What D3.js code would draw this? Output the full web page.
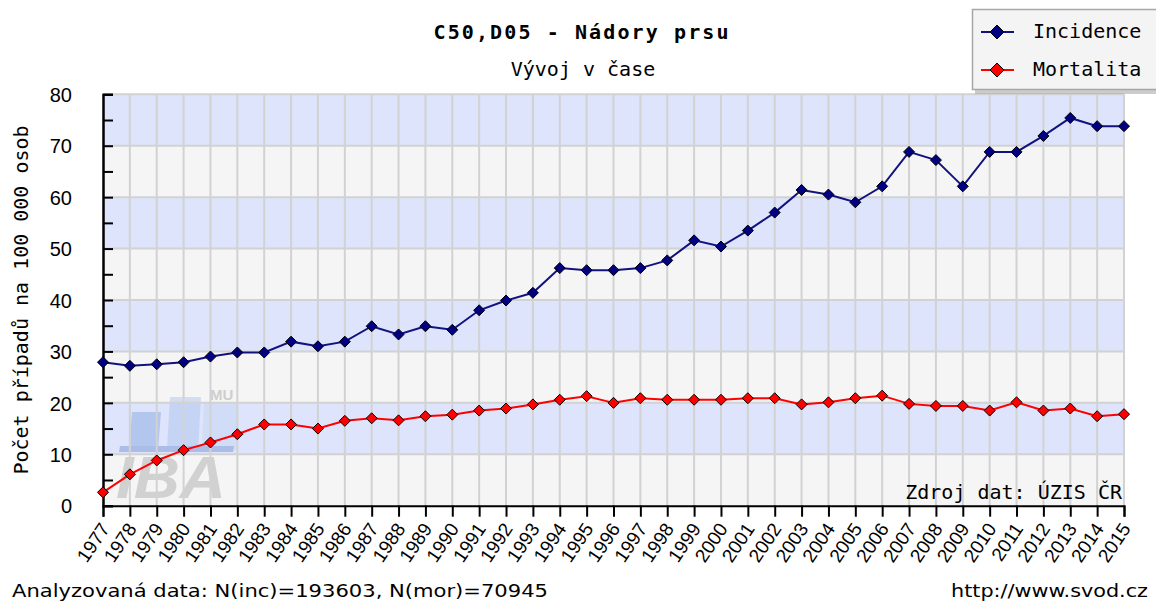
<!DOCTYPE html>
<html><head><meta charset="utf-8">
<script src="https://cdnjs.cloudflare.com/ajax/libs/d3/7.8.5/d3.min.js"></script>
<style>
html,body{margin:0;padding:0;background:#fff;}
svg{display:block;}
</style></head>
<body><svg id="c" width="1156" height="601"></svg>
<script>
const years = [1977,1978,1979,1980,1981,1982,1983,1984,1985,1986,1987,1988,1989,1990,1991,1992,1993,1994,1995,1996,1997,1998,1999,2000,2001,2002,2003,2004,2005,2006,2007,2008,2009,2010,2011,2012,2013,2014,2015];
const incidence = [27.9,27.2,27.5,27.9,29.0,29.8,29.8,31.9,31.0,31.9,34.9,33.3,34.9,34.2,38.0,39.9,41.4,46.2,45.8,45.8,46.2,47.7,51.6,50.4,53.5,57.0,61.4,60.5,59.0,62.1,68.8,67.2,62.1,68.8,68.8,71.9,75.4,73.8,73.8];
const mortality = [2.6,6.1,8.8,10.8,12.3,13.9,15.8,15.8,15.0,16.5,17.0,16.6,17.4,17.7,18.5,18.9,19.7,20.6,21.3,20.0,20.9,20.6,20.6,20.6,20.9,20.9,19.7,20.1,20.9,21.4,19.8,19.4,19.4,18.5,20.1,18.5,18.9,17.4,17.8];
const yTicks = [0,10,20,30,40,50,60,70,80];
const yMinorTicks = [5,15,25,35,45,55,65,75];
const seriesNames = ["Incidence","Mortalita"];
const titleText = "C50,D05 - Nádory prsu";
const subtitleText = "Vývoj v čase";
const yTitle = "Počet případů na 100 000 osob";
const sourceText = "Zdroj dat: ÚZIS ČR";
const footLeft = "Analyzovaná data: N(inc)=193603, N(mor)=70945";
const footRight = "http://www.svod.cz";

const svg = d3.select("#c");
const L = 103, R = 1124, T = 94.3, B = 505.7;
const x = d3.scaleLinear().domain([years[0], years[years.length-1]]).range([L, R]);
const y = d3.scaleLinear().domain([0, 80]).range([B, T]);
const mono = "'DejaVu Sans Mono', monospace";

// background bands
const bands = d3.range(yTicks.length-1).map(i => [yTicks[i], yTicks[i+1], i]);
svg.append("g").selectAll("rect").data(bands).join("rect")
  .attr("x", L).attr("width", R - L)
  .attr("y", d => y(d[1])).attr("height", d => y(d[0]) - y(d[1]))
  .attr("fill", d => d[2] % 2 === 0 ? "#f5f5f5" : "#dde4fb");

// watermark
const wm = svg.append("g").attr("opacity", 0.45);
const poly = (pts, fill) => wm.append("polygon").attr("points", pts.map(p => p.join(",")).join(" ")).attr("fill", fill);
poly([[132,412],[161,412],[158,450],[129,450]], "#7fa3e0");
poly([[170,397],[201,397],[198,450],[167,450]], "#a9c2ee");
poly([[204,402],[238,402],[236,450],[202,450]], "#c3d4f3");
poly([[120,446],[234,446],[233,452],[119,452]], "#6f8fcf");
wm.append("text").attr("x", 210).attr("y", 400).attr("font-family", "'Liberation Sans', Arial, sans-serif")
  .attr("font-weight", "bold").attr("font-size", 15).attr("fill", "#a0a0a0").text("MU");
svg.append("text").attr("x", 116).attr("y", 498).attr("font-family", "'Liberation Sans', Arial, sans-serif")
  .attr("font-weight", "bold").attr("font-style", "italic").attr("font-size", 60).attr("fill", "#c9c9c9")
  .attr("opacity", 0.8).attr("textLength", 110).attr("lengthAdjust", "spacingAndGlyphs").text("IBA");

// grid
const grid = svg.append("g").attr("stroke", "#d2d2d2").attr("stroke-width", 2);
grid.selectAll("line.v").data(years.slice(1)).join("line").attr("class","v")
  .attr("x1", d => x(d)).attr("x2", d => x(d)).attr("y1", T).attr("y2", B);
grid.selectAll("line.h").data(yTicks.slice(1)).join("line").attr("class","h")
  .attr("x1", L).attr("x2", R).attr("y1", d => y(d)).attr("y2", d => y(d));

// axes
const yAxis = svg.append("g").attr("transform", `translate(${L},0)`)
  .call(d3.axisLeft(y).tickValues(yTicks).tickSize(-10).tickPadding(31));
const yMinor = svg.append("g").attr("transform", `translate(${L},0)`)
  .call(d3.axisLeft(y).tickValues(yMinorTicks).tickSize(-10).tickFormat(""));
[yAxis, yMinor].forEach(g => {
  g.select(".domain").attr("stroke", "#000").attr("stroke-width", 2);
  g.selectAll(".tick line").attr("stroke", "#000").attr("stroke-width", 2);
});
yAxis.selectAll(".tick text").attr("font-family", "'Liberation Sans', Arial, sans-serif")
  .attr("font-size", 20).attr("fill", "#000").attr("dy", "0.36em");

const xAxis = svg.append("g").attr("transform", `translate(0,${B})`)
  .call(d3.axisBottom(x).tickValues(years).tickSize(11).tickFormat(d3.format("d")));
xAxis.select(".domain").attr("stroke", "#000").attr("stroke-width", 2);
xAxis.selectAll(".tick line").attr("stroke", "#000").attr("stroke-width", 2);
xAxis.selectAll(".tick text").attr("font-family", "'Liberation Sans', Arial, sans-serif")
  .attr("font-size", 19).attr("fill", "#000")
  .attr("text-anchor", "end").attr("dy", 0).attr("y", 0)
  .attr("transform", "translate(7,23) rotate(-56)");

// lines and markers
const series = [
  {name: seriesNames[0], values: incidence, line: "#12127f", fill: "#000080"},
  {name: seriesNames[1], values: mortality, line: "#ff0000", fill: "#ff0000"}
];
const diamond = "M0,-5.5L5.5,0L0,5.5L-5.5,0Z";
series.forEach(s => {
  const pts = years.map((yr, i) => [x(yr), y(s.values[i])]);
  svg.append("path").datum(pts).attr("d", d3.line()).attr("fill", "none")
    .attr("stroke", s.line).attr("stroke-width", 2);
  svg.append("g").selectAll("path").data(pts).join("path")
    .attr("d", diamond).attr("transform", d => `translate(${d[0]},${d[1]})`)
    .attr("fill", s.fill).attr("stroke", "#000").attr("stroke-width", 1);
});

// titles
svg.append("text").attr("x", 581).attr("y", 39).attr("text-anchor", "middle")
  .attr("font-family", mono).attr("font-weight", "bold").attr("font-size", 20)
  .attr("textLength", 295).attr("lengthAdjust", "spacing").text(titleText);
svg.append("text").attr("x", 583).attr("y", 76).attr("text-anchor", "middle")
  .attr("font-family", mono).attr("font-size", 20).text(subtitleText);
svg.append("text").attr("transform", `translate(28,${(T+B)/2}) rotate(-90)`).attr("text-anchor", "middle")
  .attr("font-family", mono).attr("font-size", 20).text(yTitle);
svg.append("text").attr("x", 1122).attr("y", 499).attr("text-anchor", "end")
  .attr("font-family", mono).attr("font-size", 20).text(sourceText);

// footer
svg.append("text").attr("x", 12).attr("y", 597).attr("font-family", "'DejaVu Sans', Verdana, sans-serif")
  .attr("font-size", 17).attr("textLength", 536).attr("lengthAdjust", "spacingAndGlyphs").text(footLeft);
svg.append("text").attr("x", 1148).attr("y", 597).attr("text-anchor", "end").attr("font-family", "'DejaVu Sans', Verdana, sans-serif")
  .attr("font-size", 17).attr("textLength", 197).attr("lengthAdjust", "spacingAndGlyphs").text(footRight);

// legend
const lg = svg.append("g");
lg.append("rect").attr("x", 975).attr("y", 12).attr("width", 200).attr("height", 82).attr("fill", "#9a9a9a").attr("opacity", 0.5);
lg.append("rect").attr("x", 972.5).attr("y", 9.5).attr("width", 200).attr("height", 80).attr("fill", "#f4f4f4").attr("stroke", "#a6a6a6").attr("stroke-width", 1.5);
series.forEach((s, i) => {
  const cy = 32 + i * 38;
  lg.append("line").attr("x1", 981).attr("x2", 1014).attr("y1", cy).attr("y2", cy).attr("stroke", s.line).attr("stroke-width", 2);
  lg.append("path").attr("d", "M0,-7L7,0L0,7L-7,0Z").attr("transform", `translate(997,${cy})`).attr("fill", s.fill).attr("stroke", "#000").attr("stroke-width", 1);
  lg.append("text").attr("x", 1033).attr("y", cy + 6).attr("font-family", mono).attr("font-size", 20).text(s.name);
});
</script></body></html>
